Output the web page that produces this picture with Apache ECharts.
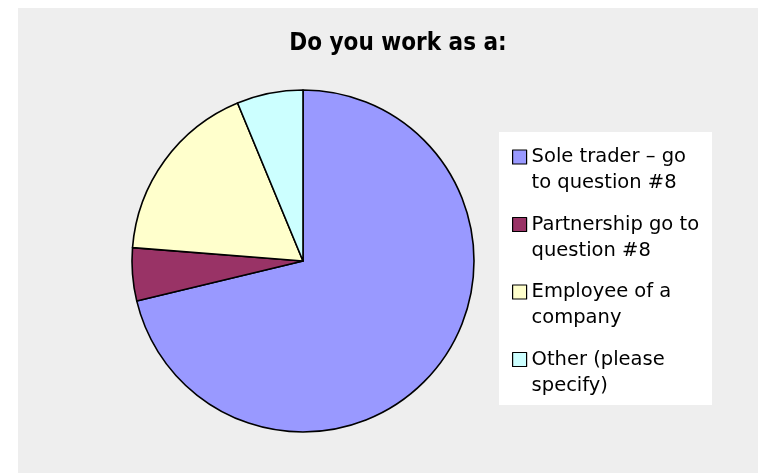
<!DOCTYPE html>
<html>
<head>
<meta charset="utf-8">
<script src="https://cdn.jsdelivr.net/npm/echarts@6/dist/echarts.min.js"></script>
<style>
  html, body { margin: 0; padding: 0; background: #ffffff; }
  #chart { width: 758px; height: 473px; }
</style>
</head>
<body>
<div id="chart"></div>
<script>
// Survey answers: "Do you work as a:"
const categories = [
  'Sole trader \u2013 go\nto question #8',
  'Partnership go to\nquestion #8',
  'Employee of a\ncompany',
  'Other (please\nspecify)'
];
const responses = [57, 4, 14, 5];
const sliceColors = ['#9999ff', '#993366', '#ffffcc', '#ccffff'];

const chart = echarts.init(document.getElementById('chart'), null, { renderer: 'canvas' });

chart.setOption({
  animation: false,
  backgroundColor: '#ffffff',
  graphic: [
    {
      // plot area
      type: 'rect',
      z: -10,
      silent: true,
      shape: { x: 18, y: 8, width: 740, height: 465 },
      style: { fill: '#eeeeee' }
    },
    {
      // legend panel
      type: 'rect',
      z: -5,
      silent: true,
      shape: { x: 499, y: 132, width: 213, height: 273 },
      style: { fill: '#ffffff' }
    }
  ],
  title: {
    text: 'Do you work as a:',
    left: 393,
    top: 27,
    textAlign: 'center',
    textStyle: {
      fontFamily: 'DejaVu Sans Condensed, DejaVu Sans',
      fontWeight: 'bold',
      fontSize: 24,
      color: '#000000'
    }
  },
  legend: {
    orient: 'vertical',
    left: 512,
    top: 118,
    padding: 0,
    itemGap: -10.5,
    itemWidth: 14,
    itemHeight: 14,
    icon: 'rect',
    itemStyle: { borderColor: '#000000', borderWidth: 1.2 },
    // leading blank line keeps the marker level with the first text line
    formatter: name => '\n' + name,
    textStyle: {
      fontFamily: 'DejaVu Sans',
      fontSize: 19.5,
      lineHeight: 26,
      color: '#000000'
    },
    data: categories
  },
  series: [{
    type: 'pie',
    center: [303, 261],
    radius: 171,
    startAngle: 90,
    clockwise: true,
    label: { show: false },
    labelLine: { show: false },
    emphasis: { disabled: true },
    itemStyle: { borderColor: '#000000', borderWidth: 1.6 },
    data: categories.map((name, i) => ({
      name: name,
      value: responses[i],
      itemStyle: { color: sliceColors[i] }
    }))
  }]
});
</script>
</body>
</html>
